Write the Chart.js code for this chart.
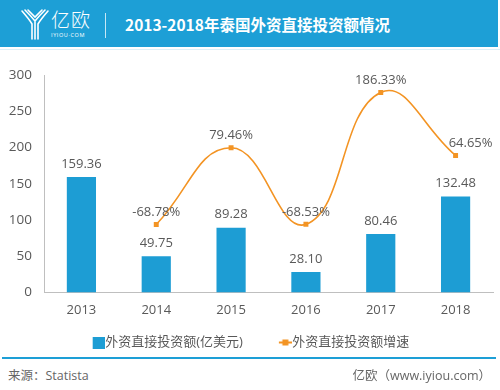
<!DOCTYPE html>
<html>
<head>
<meta charset="utf-8">
<script src="https://cdn.jsdelivr.net/npm/chart.js@4.4.1/dist/chart.umd.min.js"></script>
<style>
  html, body { margin: 0; padding: 0; background: #fff; }
  #page { position: relative; width: 500px; height: 390px; overflow: hidden; font-family: "Open Sans", "Noto Sans CJK SC", sans-serif; }
  #header { position: absolute; left: 0; top: 0; width: 498px; height: 47px; background: #1d9fd6; }
  #logo { position: absolute; left: 20px; top: 8px; }
  #brand { position: absolute; left: 51px; top: 9px; color: #fff; font-family: "Noto Sans CJK SC", sans-serif; font-weight: 300; font-size: 19px; line-height: 20px; letter-spacing: 1px; }
  #brandsub { position: absolute; left: 51px; top: 31px; color: #fff; font-size: 5.5px; letter-spacing: 0.6px; }
  #divider { position: absolute; left: 105px; top: 13px; width: 1px; height: 25px; background: rgba(255,255,255,0.75); }
  #title { position: absolute; left: 125px; top: 13px; color: #fff; font-family: "Noto Sans CJK SC", sans-serif; font-weight: 700; font-size: 15.5px; line-height: 22px; }
  #topline { position: absolute; left: 0; top: 49px; width: 500px; height: 1px; background: #dcf0f9; }
  #wrap { position: absolute; left: 0; top: 50px; width: 500px; height: 309px; }
  #footline { position: absolute; left: 2px; top: 357px; width: 494px; height: 2px; background: #1d9fd6; }
  .foot { position: absolute; top: 365px; font-size: 12.5px; color: #666; font-family: "Open Sans", "Noto Sans CJK SC", sans-serif; }
</style>
</head>
<body>
<div id="page">
  <div id="header">
    <svg id="logo" width="30" height="32" viewBox="0 0 30 32">
      <g fill="none" stroke="#fff" stroke-width="1.6" stroke-linecap="round">
        <path d="M2 3 Q9 11 12 16 L12 31"/>
        <path d="M28 3 Q21 11 18 16 L18 31"/>
        <path d="M5 2 Q11 8 15 13 Q19 8 25 2"/>
        <path d="M15 14 L15 31"/>
        <path d="M8 2 Q12 6 15 9 Q18 6 22 2"/>
      </g>
    </svg>
    <div id="brand">亿欧</div>
    <div id="brandsub">IYIOU·COM</div>
    <div id="divider"></div>
    <div id="title">2013-2018年泰国外资直接投资额情况</div>
  </div>
  <div id="topline"></div>
  <div id="wrap"><canvas id="chart"></canvas></div>
  <div id="footline"></div>
  <div class="foot" style="left:8px;">来源：Statista</div>
  <div class="foot" style="right:9px;">亿欧（www.iyiou.com）</div>
</div>
<script>
const years = ["2013", "2014", "2015", "2016", "2017", "2018"];
const fdiAmount = [159.36, 49.75, 89.28, 28.10, 80.46, 132.48];
const fdiGrowth = [null, -68.78, 79.46, -68.53, 186.33, 64.65];
const amountLabel = "外资直接投资额(亿美元)";
const growthLabel = "外资直接投资额增速";

const blue = "#1d9dd4";
const orange = "#f39424";
const textColor = "#595959";
const fontFamily = "'Open Sans', 'Noto Sans CJK SC', sans-serif";

// legend glyphs: wide transparent canvas, glyph pushed to the right so it sits next to the text
const legendBox = 35;
function makeBoxIcon() {
  const c = document.createElement("canvas");
  c.width = legendBox + 12; c.height = 12;
  const g = c.getContext("2d");
  g.fillStyle = blue;
  g.fillRect(c.width - 12, 0, 12, 12);
  return c;
}
function makeLineIcon() {
  const c = document.createElement("canvas");
  c.width = legendBox + 12; c.height = 8;
  const g = c.getContext("2d");
  const x0 = c.width - 13;
  g.strokeStyle = orange;
  g.lineWidth = 2;
  g.beginPath(); g.moveTo(x0, 4); g.lineTo(x0 + 13, 4); g.stroke();
  g.fillStyle = orange;
  g.fillRect(x0 + 3.5, 1, 6, 6);
  return c;
}

const valueLabels = {
  id: "valueLabels",
  afterLayout(chart) {
    // nudge the legend a bit to the left like the original
    chart.legend.left -= 10;
    chart.legend.right -= 10;
  },
  afterDatasetsDraw(chart) {
    const ctx = chart.ctx;
    ctx.save();
    ctx.font = "13px " + fontFamily;
    ctx.fillStyle = textColor;
    ctx.textAlign = "center";
    ctx.textBaseline = "middle";
    chart.data.datasets.forEach((ds, di) => {
      const meta = chart.getDatasetMeta(di);
      meta.data.forEach((el, i) => {
        const v = ds.data[i];
        if (v === null || v === undefined) return;
        if (ds.type === "line") {
          const dx = i === ds.data.length - 1 ? 15 : 0;
          ctx.fillText(v.toFixed(2) + "%", el.x + dx, el.y - 12);
        } else {
          ctx.fillText(v.toFixed(2), el.x, el.y - 13);
        }
      });
    });
    ctx.restore();
  }
};

new Chart(document.getElementById("chart"), {
  data: {
    labels: years,
    datasets: [
      {
        type: "line",
        label: growthLabel,
        data: fdiGrowth,
        yAxisID: "y1",
        borderColor: orange,
        backgroundColor: orange,
        borderWidth: 1.6,
        tension: 0.45,
        pointStyle: "rect",
        pointRadius: 3.5,
        pointBackgroundColor: orange,
        pointBorderWidth: 0,
        order: 0
      },
      {
        type: "bar",
        label: amountLabel,
        data: fdiAmount,
        yAxisID: "y",
        backgroundColor: blue,
        categoryPercentage: 1,
        barPercentage: 0.39,
        order: 1
      }
    ]
  },
  options: {
    responsive: true,
    maintainAspectRatio: false,
    animation: false,
    layout: { padding: { top: 25, right: 7, left: 0, bottom: 0 } },
    plugins: {
      tooltip: { enabled: false },
      legend: {
        position: "bottom",
        labels: {
          usePointStyle: true,
          pointStyleWidth: legendBox,
          padding: 8,
          color: textColor,
          font: { family: fontFamily, size: 13 },
          generateLabels(chart) {
            return [
              { text: amountLabel, pointStyle: makeBoxIcon(), fillStyle: blue, strokeStyle: blue, lineWidth: 0, datasetIndex: 1, fontColor: textColor },
              { text: growthLabel, pointStyle: makeLineIcon(), fillStyle: orange, strokeStyle: orange, lineWidth: 0, datasetIndex: 0, fontColor: textColor }
            ];
          }
        }
      }
    },
    scales: {
      x: {
        grid: { display: false, drawTicks: false },
        border: { display: true, color: "#bfbfbf", width: 1 },
        ticks: { color: textColor, font: { family: fontFamily, size: 13 }, padding: 10 }
      },
      y: {
        min: 0,
        max: 300,
        afterFit(scale) { scale.width = 44; },
        grid: { display: false, drawTicks: false },
        border: { display: true, color: "#bfbfbf", width: 1 },
        ticks: { stepSize: 50, color: textColor, font: { family: fontFamily, size: 13.5 }, padding: 12 }
      },
      y1: {
        display: false,
        min: -200,
        max: 220
      }
    }
  },
  plugins: [valueLabels]
});
</script>
</body>
</html>
